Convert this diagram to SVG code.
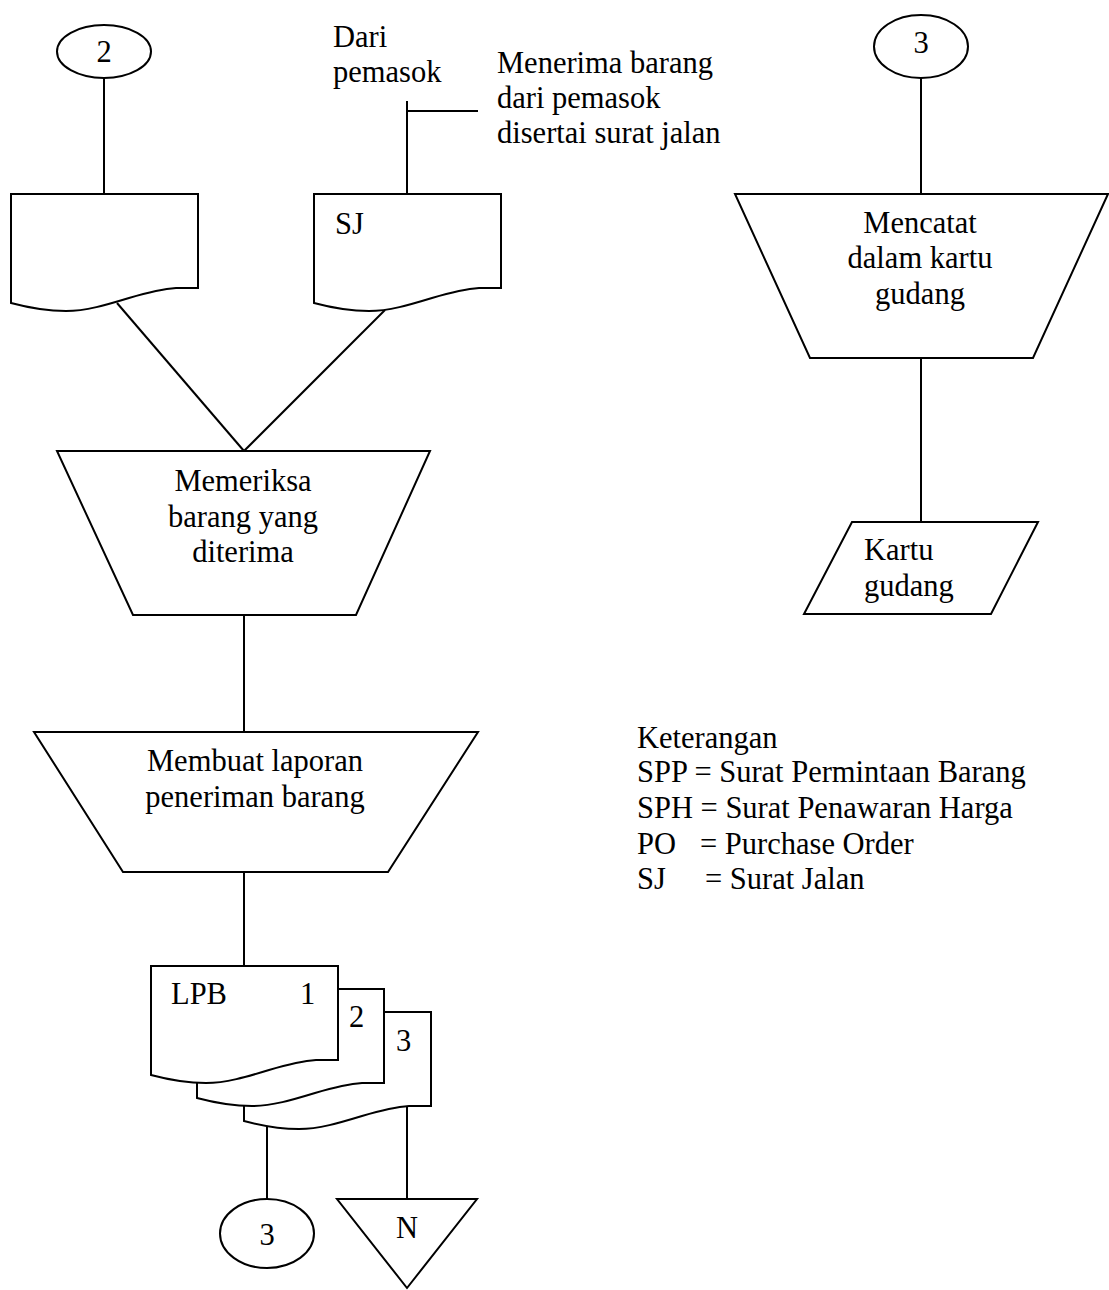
<svg xmlns="http://www.w3.org/2000/svg" width="1109" height="1290" viewBox="0 0 1109 1290">
<defs>
<style>
.s{fill:#fff;stroke:#000;stroke-width:2}
.c{fill:none;stroke:#000;stroke-width:2}
text{font-family:"Liberation Serif","Times New Roman",serif;font-size:30.5px;fill:#000}
.m{text-anchor:middle}
</style>
<path id="doc" d="M0,0 H187 V94 L165,94 C150,95 135,99 118,104 C95,111 75,117 55,117 C35,117 15,113 0,109 Z"/>
</defs>
<rect width="1109" height="1290" fill="#fff"/>
<g id="connectors" class="c">
<line x1="104" y1="78" x2="104" y2="194"/>
<line x1="407" y1="101" x2="407" y2="194"/>
<line x1="407" y1="111" x2="478" y2="111"/>
<line x1="117" y1="303" x2="244" y2="451"/>
<line x1="385" y1="310" x2="244" y2="451"/>
<line x1="244" y1="615" x2="244" y2="732"/>
<line x1="244" y1="872" x2="244" y2="966"/>
<line x1="267" y1="1120" x2="267" y2="1199"/>
<line x1="407" y1="1100" x2="407" y2="1199"/>
<line x1="921" y1="78" x2="921" y2="194"/>
<line x1="921" y1="358" x2="921" y2="522"/>
</g>
<g id="conn2">
<ellipse class="s" cx="104" cy="51.5" rx="47" ry="26.5"/>
<text class="m" x="104" y="62">2</text>
</g>
<g id="doc-blank">
<use href="#doc" class="s" x="11" y="194"/>
</g>
<g id="doc-sj">
<use href="#doc" class="s" x="314" y="194"/>
<text x="335" y="234">SJ</text>
</g>
<g id="label-dari">
<text x="333" y="47">Dari</text>
<text x="333" y="82">pemasok</text>
</g>
<g id="label-menerima">
<text x="497" y="73">Menerima barang</text>
<text x="497" y="108">dari pemasok</text>
<text x="497" y="143">disertai surat jalan</text>
</g>
<g id="memeriksa">
<polygon class="s" points="57,451 430,451 356,615 133,615"/>
<text class="m" x="243" y="491">Memeriksa</text>
<text class="m" x="243" y="527">barang yang</text>
<text class="m" x="243" y="562">diterima</text>
</g>
<g id="membuat">
<polygon class="s" points="34,732 478,732 388,872 123,872"/>
<text class="m" x="255" y="771">Membuat laporan</text>
<text class="m" x="255" y="807">peneriman barang</text>
</g>
<g id="lpb">
<use href="#doc" class="s" x="244" y="1012"/>
<use href="#doc" class="s" x="197" y="989"/>
<use href="#doc" class="s" x="151" y="966"/>
<text x="171" y="1004">LPB</text>
<text x="300" y="1004">1</text>
<text x="349" y="1027">2</text>
<text x="396" y="1051">3</text>
</g>
<g id="conn3-bottom">
<ellipse class="s" cx="267" cy="1233.5" rx="47" ry="34.5"/>
<text class="m" x="267" y="1245">3</text>
</g>
<g id="arsip-n">
<polygon class="s" points="337,1199 477,1199 407,1288"/>
<text class="m" x="407" y="1238">N</text>
</g>
<g id="conn3-top">
<ellipse class="s" cx="921" cy="46.5" rx="47" ry="31.5"/>
<text class="m" x="921" y="53">3</text>
</g>
<g id="mencatat">
<polygon class="s" points="735,194 1108,194 1033,358 810,358"/>
<text class="m" x="920" y="233">Mencatat</text>
<text class="m" x="920" y="268">dalam kartu</text>
<text class="m" x="920" y="304">gudang</text>
</g>
<g id="kartu-gudang">
<polygon class="s" points="852,522 1038,522 991,614 804,614"/>
<text x="864" y="560">Kartu</text>
<text x="864" y="596">gudang</text>
</g>
<g id="keterangan">
<text x="637" y="748">Keterangan</text>
<text x="637" y="782">SPP = Surat Permintaan Barang</text>
<text x="637" y="818">SPH = Surat Penawaran Harga</text>
<text x="637" y="854">PO<tspan x="700">= Purchase Order</tspan></text>
<text x="637" y="889">SJ<tspan x="705">= Surat Jalan</tspan></text>
</g>
</svg>
